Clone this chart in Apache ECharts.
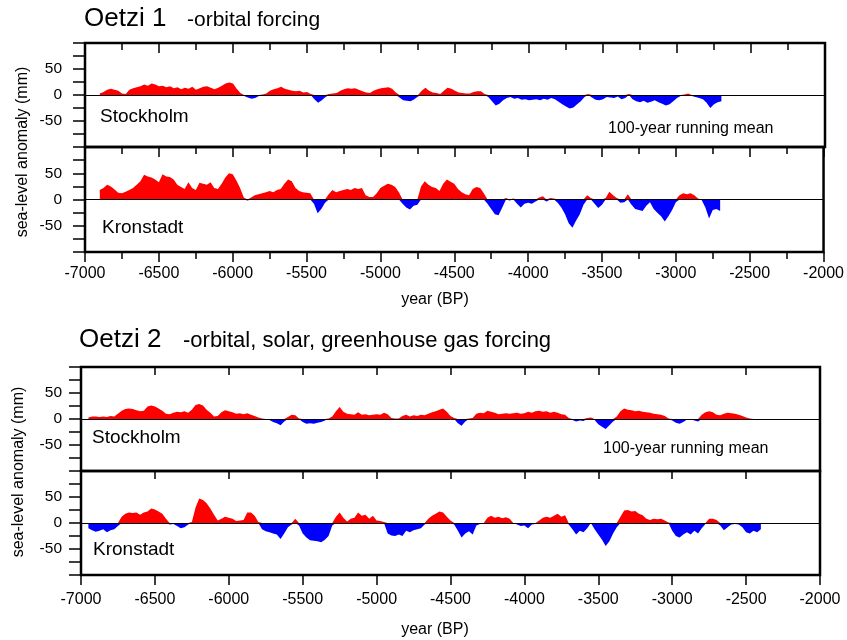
<!DOCTYPE html>
<html><head><meta charset="utf-8">
<script src="https://cdn.jsdelivr.net/npm/echarts@6/dist/echarts.min.js"></script>
<style>html,body{margin:0;padding:0;background:#fff}#c{width:847px;height:640px}</style>
</head><body><div id="c"></div>
<script>
// ---------- data (100-year running mean, sea-level anomaly in mm, every 25 years) ----------
const STEP = 25;
const O1_START = -6900;   // Oetzi 1 series start (year BP)
const O2_START = -6950;   // Oetzi 2 series start (year BP)
const xTickLabels = [-7000, -6500, -6000, -5500, -5000, -4500, -4000, -3500, -3000, -2500, -2000];
const yTickLabels = [50, 0, -50];

const oetzi1Stockholm = [
  3,6,10,12,10,8,3,2,10,13,
  15,17,20,18,22,20,17,18,15,17,
  13,15,11,14,12,16,10,13,16,17,
  14,11,14,18,22,24,22,12,4,-2,
  -5,-7,-6,-2,1,3,8,11,13,16,
  12,10,8,7,8,5,6,2,-8,-15,
  -10,-4,2,3,4,8,11,13,12,13,
  10,7,5,4,8,11,13,14,15,12,
  5,-5,-10,-11,-12,-8,-3,8,14,8,
  5,4,2,8,14,12,8,5,4,3,
  3,6,7,7,2,-4,-12,-20,-17,-10,
  -6,-4,-7,-6,-9,-8,-10,-9,-8,-10,
  -7,-9,-6,-8,-13,-18,-22,-26,-24,-18,
  -12,-4,2,-5,-9,-10,-8,-4,-5,-6,
  -3,-8,-6,2,-8,-12,-14,-11,-15,-13,
  -10,-14,-17,-20,-18,-12,-6,-2,1,3,
  -2,-4,-6,-8,-15,-25,-18,-14,-12
];
const oetzi1Kronstadt = [
  18,22,28,25,19,13,12,15,18,22,
  28,35,47,44,42,38,33,48,44,43,
  38,28,24,20,33,22,18,32,30,28,
  33,22,20,30,42,50,48,36,22,4,
  -2,4,8,10,12,14,16,14,18,20,
  30,38,35,22,16,14,13,12,-8,-26,
  -18,-6,10,18,14,16,18,20,18,22,
  20,22,8,5,5,12,22,26,30,28,
  24,14,-8,-15,-19,-12,-10,25,35,28,
  24,22,16,30,38,34,30,20,14,10,
  8,20,24,22,12,-8,-18,-28,-30,-15,
  3,-2,2,-8,-15,-8,-6,-8,-4,4,
  6,-4,3,2,-6,-15,-28,-45,-54,-40,
  -28,-10,8,3,-8,-16,-10,3,15,8,
  3,-6,-5,10,-10,-18,-20,-22,-12,-5,
  -18,-25,-32,-42,-32,-20,-5,8,12,10,
  12,8,2,-1,-15,-36,-20,-18,-22
];
const oetzi2Stockholm = [
  3,5,5,4,5,4,6,5,10,16,
  19,20,19,17,15,16,24,26,24,20,
  16,10,9,12,14,13,15,12,18,27,
  29,26,18,12,5,6,13,17,15,13,
  10,11,9,11,8,6,3,1,0,-2,
  -6,-8,-12,-5,4,8,7,1,-6,-9,
  -8,-9,-7,-6,-3,1,5,15,23,14,
  10,9,8,13,8,9,7,8,9,8,
  12,9,2,1,1,6,8,5,7,6,
  8,7,10,13,15,18,20,14,6,2,
  -8,-13,-5,1,2,10,12,11,16,14,
  12,9,10,11,10,11,12,10,11,14,
  12,15,16,14,15,12,14,12,9,8,
  2,-2,-5,-3,-4,2,3,-2,-10,-15,
  -19,-12,-5,5,15,20,18,17,15,16,
  14,13,12,10,9,8,6,1,-3,-7,
  -9,-6,-1,0,-3,-5,8,13,15,13,
  8,7,10,12,11,10,8,6,3,1,
  -2,-1,-1
];
const oetzi2Kronstadt = [
  -10,-14,-17,-15,-12,-18,-14,-12,-6,12,
  18,20,19,20,16,20,22,28,26,22,
  18,8,-3,-2,-6,-10,-8,-3,2,30,
  47,44,38,28,16,5,8,12,10,8,
  4,5,6,20,20,14,2,-12,-16,-18,
  -20,-22,-31,-20,-8,-3,8,-5,-20,-28,
  -33,-34,-35,-37,-32,-25,-5,12,20,10,
  3,8,10,20,14,16,8,14,5,4,
  2,-20,-24,-25,-22,-25,-15,-18,-14,-12,
  -10,-3,8,14,18,22,20,12,5,-3,
  -15,-28,-20,-16,-22,-5,-2,0,10,14,
  10,12,9,11,8,0,-3,-6,-5,-10,
  -3,-2,5,10,12,10,14,18,12,15,
  -3,-12,-22,-15,-18,-10,0,-12,-22,-32,
  -44,-35,-20,-8,12,24,25,22,23,18,
  15,8,6,8,7,8,5,1,-15,-25,
  -28,-22,-18,-22,-15,-20,-10,-2,8,8,
  6,-5,-14,-8,-3,-2,-3,-8,-18,-20,
  -15,-18,-12
];

// ---------- chart ----------
const FONT = "'Liberation Sans', Arial, Helvetica, sans-serif";
const RED = '#ff0000', BLUE = '#0000ff';
const chart = echarts.init(document.getElementById('c'), null, {renderer: 'canvas'});

function part(start, vals, positive) {
  return vals.map((v, i) => [start + i * STEP, positive ? Math.max(v, 0) : Math.min(v, 0)]);
}
const tickStyle = {color: '#000', width: 1.5};

function xTop(grid, minor) {
  return {
    type: 'value', gridIndex: grid, position: 'top', min: xTickLabels[0], max: xTickLabels[xTickLabels.length - 1], interval: 500,
    axisLine: {show: false, onZero: false},
    axisTick: {show: true, inside: true, length: minor ? 10 : 8, lineStyle: tickStyle},
    minorTick: {show: minor, splitNumber: 2, length: 7, lineStyle: tickStyle},
    axisLabel: {show: false}, splitLine: {show: false}, minorSplitLine: {show: false}
  };
}
function xBottom(grid, minor, margin) {
  return {
    type: 'value', gridIndex: grid, position: 'bottom', min: xTickLabels[0], max: xTickLabels[xTickLabels.length - 1], interval: 500,
    axisLine: {show: false, onZero: false},
    axisTick: {show: true, inside: false, length: 10, lineStyle: tickStyle},
    minorTick: {show: minor, splitNumber: 2, length: 7, lineStyle: tickStyle},
    axisLabel: {show: true, color: '#000', fontSize: 16, fontFamily: FONT, margin: margin,
      formatter: v => xTickLabels.indexOf(v) >= 0 ? String(v) : ''},
    splitLine: {show: false}, minorSplitLine: {show: false}
  };
}
function yAx(grid, margin) {
  return {
    type: 'value', gridIndex: grid, min: -100, max: 100, interval: 25,
    axisLine: {show: false, onZero: false},
    axisTick: {show: true, inside: false, length: 12, lineStyle: tickStyle},
    axisLabel: {show: true, color: '#000', fontSize: 15.5, fontFamily: FONT, margin: margin,
      formatter: v => yTickLabels.indexOf(v) >= 0 ? String(v) : ''},
    splitLine: {show: false}
  };
}
function areaSeries(xi, yi, start, vals, positive, withZero) {
  const s = {
    type: 'line', xAxisIndex: xi, yAxisIndex: yi, data: part(start, vals, positive),
    symbol: 'none', showSymbol: false, silent: true, clip: true,
    lineStyle: {width: 0, color: positive ? RED : BLUE},
    areaStyle: {color: positive ? RED : BLUE, opacity: 1},
    z: 2
  };
  if (withZero) {
    s.markLine = {silent: true, symbol: ['none', 'none'], label: {show: false}, animation: false,
      lineStyle: {color: '#000', width: 1, type: 'solid'}, data: [{yAxis: 0}], z: 5};
  }
  return s;
}
const gridBase = {show: true, borderColor: '#000', borderWidth: 2.5, backgroundColor: 'transparent', containLabel: false};

function txt(x, y, text, size, align, rot) {
  return {type: 'text', x: x, y: y, rotation: rot || 0, silent: true, z: 10,
    style: {text: text, fill: '#000', font: size + 'px ' + FONT, textAlign: align || 'left', textVerticalAlign: 'middle'}};
}

const option = {
  animation: false,
  backgroundColor: '#fff',
  grid: [
    Object.assign({left: 85, top: 43, width: 740, height: 104}, gridBase),
    Object.assign({left: 85, top: 147, width: 740, height: 105}, gridBase),
    Object.assign({left: 81, top: 367, width: 739, height: 104}, gridBase),
    Object.assign({left: 81, top: 471, width: 739, height: 104}, gridBase)
  ],
  xAxis: [
    xTop(0, true), xTop(1, true), xBottom(1, true, 14),
    xTop(2, false), xTop(3, false), xBottom(3, false, 17)
  ],
  yAxis: [yAx(0, 23), yAx(1, 23), yAx(2, 19), yAx(3, 19)],
  series: [
    areaSeries(0, 0, O1_START, oetzi1Stockholm, true, true),
    areaSeries(0, 0, O1_START, oetzi1Stockholm, false, false),
    areaSeries(1, 1, O1_START, oetzi1Kronstadt, true, true),
    areaSeries(1, 1, O1_START, oetzi1Kronstadt, false, false),
    areaSeries(3, 2, O2_START, oetzi2Stockholm, true, true),
    areaSeries(3, 2, O2_START, oetzi2Stockholm, false, false),
    areaSeries(4, 3, O2_START, oetzi2Kronstadt, true, true),
    areaSeries(4, 3, O2_START, oetzi2Kronstadt, false, false)
  ],
  graphic: [
    txt(84, 19, 'Oetzi 1', 26),
    txt(187, 20.5, '-orbital forcing', 21),
    txt(100, 117, 'Stockholm', 19),
    txt(608, 129, '100-year running mean', 16),
    txt(102, 228, 'Kronstadt', 19),
    txt(435, 300, 'year (BP)', 16, 'center'),
    txt(23, 152, 'sea-level anomaly (mm)', 16, 'center', Math.PI / 2),

    txt(79, 340, 'Oetzi 2', 26),
    txt(183, 341, '-orbital, solar, greenhouse gas forcing', 22),
    txt(92, 438, 'Stockholm', 19),
    txt(603, 449, '100-year running mean', 16),
    txt(93, 550, 'Kronstadt', 19),
    txt(435, 630, 'year (BP)', 16, 'center'),
    txt(19, 472, 'sea-level anomaly (mm)', 16, 'center', Math.PI / 2)
  ]
};
chart.setOption(option);
</script>
</body></html>
